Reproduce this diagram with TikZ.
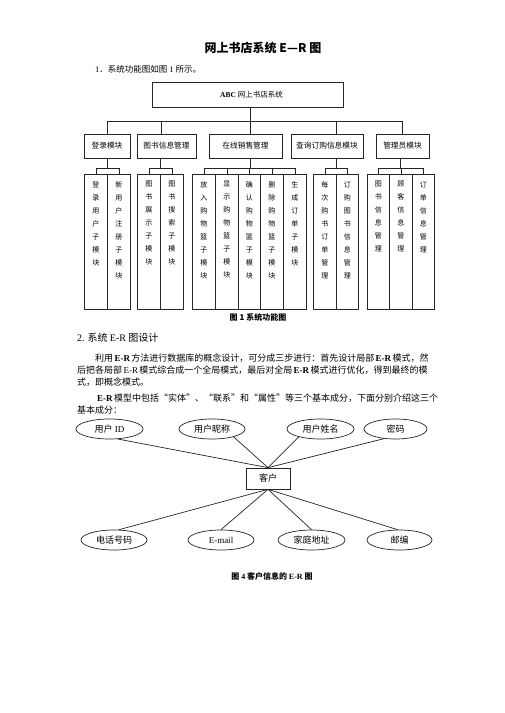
\documentclass[tikz,border=0pt]{standalone}
\usepackage{fontspec}
\setmainfont{Noto Sans CJK SC}
\newfontfamily\lt{Liberation Serif}
\usetikzlibrary{shapes.geometric}
\XeTeXlinebreaklocale "zh"
\XeTeXlinebreakskip=0pt plus 1pt minus 0.3pt
\newcommand\fs[1]{\fontsize{#1}{#1}\selectfont}
\newcommand\vt[2]{\parbox[t][135pt][t]{#1pt}{\centering\fontsize{7}{13}\selectfont\vspace*{7pt}#2}}
\tikzset{
  ln/.style={line width=0.7pt, draw=black!85},
  box/.style={ln, draw, inner sep=0pt},
  mod/.style={box, minimum height=24pt, font=\fs{7.7}},
  sub/.style={box, anchor=north west},
  attr/.style={ln, draw, ellipse, minimum height=20pt, inner sep=0pt, font=\fs{9}},
  txt/.style={inner sep=0pt},
}
\begin{document}
\begin{tikzpicture}[x=1pt,y=-1pt]
\useasboundingbox[fill=white] (0,0) rectangle (504,713);

% heading texts
\node[txt, font=\fs{12}\bfseries] (title) at (263,48) {网上书店系统 E—R 图};
\node[txt, anchor=west, font=\fs{8.5}] (l1) at (95,69) {{\lt 1}．系统功能图如图 {\lt 1} 所示。};

% top box
\node[box, minimum width=191pt, minimum height=25pt, font=\fs{7.5}] (top) at (247.5,94.5) {\hspace*{8pt}{\lt\bfseries ABC} 网上书店系统};

% bus
\coordinate (bus) at (250,121);
\coordinate (t1) at (107,121);
\coordinate (t2) at (161,121);
\coordinate (t3) at (250,121);
\coordinate (t4) at (336,121);
\coordinate (t5) at (402,121);
\draw[ln] (bus |- top.south) -- (bus);
\draw[ln] (t1) -- (t5);

% modules
\node[mod, minimum width=46pt] (m1) at (107,146) {登录模块};
\node[mod, minimum width=59pt] (m2) at (166.5,146) {图书信息管理};
\node[mod, minimum width=73pt] (m3) at (245.5,146) {在线销售管理};
\node[mod, minimum width=72pt] (m4) at (327,146) {查询订购信息模块};
\node[mod, minimum width=53pt] (m5) at (402.5,146) {管理员模块};
\draw[ln] (t1) -- (t1 |- m1.north);
\draw[ln] (t2) -- (t2 |- m2.north);
\draw[ln] (t3) -- (t3 |- m3.north);
\draw[ln] (t4) -- (t4 |- m4.north);
\draw[ln] (t5) -- (t5 |- m5.north);

% sub boxes
\node[sub] (s1) at (84,174) {\vt{23}{登\\录\\用\\户\\子\\模\\块}};
\node[sub] (s2) at (107,174) {\vt{23}{新\\用\\户\\注\\册\\子\\模\\块}};
\node[sub] (s3) at (137,174) {\vt{23}{图\\书\\展\\示\\子\\模\\块}};
\node[sub] (s4) at (160,174) {\vt{23}{图\\书\\搜\\索\\子\\模\\块}};
\node[sub] (s5) at (192,174) {\vt{23}{放\\入\\购\\物\\篮\\子\\模\\块}};
\node[sub] (s6) at (215,174) {\vt{23}{显\\示\\购\\物\\篮\\子\\模\\块}};
\node[sub] (s7) at (238,174) {\vt{22}{确\\认\\购\\物\\篮\\子\\模\\块}};
\node[sub] (s8) at (260,174) {\vt{23}{删\\除\\购\\物\\篮\\子\\模\\块}};
\node[sub] (s9) at (283,174) {\vt{23}{生\\成\\订\\单\\子\\模\\块}};
\node[sub] (s10) at (313,174) {\vt{23}{每\\次\\购\\书\\订\\单\\管\\理}};
\node[sub] (s11) at (336,174) {\vt{22}{订\\购\\图\\书\\信\\息\\管\\理}};
\node[sub] (s12) at (367,174) {\vt{22}{图\\书\\信\\息\\管\\理}};
\node[sub] (s13) at (389,174) {\vt{23}{顾\\客\\信\\息\\管\\理}};
\node[sub] (s14) at (412,174) {\vt{22}{订\\单\\信\\息\\管\\理}};

% brackets
\coordinate (g1) at (107,168);
\coordinate (g2) at (160,168);
\coordinate (g3) at (250,168);
\coordinate (g4) at (336,168);
\coordinate (g5) at (400,168);
\draw[ln] (g1 |- m1.south) -- (g1);
\draw[ln] (g2 |- m2.south) -- (g2);
\draw[ln] (g3 |- m3.south) -- (g3);
\draw[ln] (g4 |- m4.south) -- (g4);
\draw[ln] (g5 |- m5.south) -- (g5);
\draw[ln] (s1.north) |- (s2.north |- g1) -- (s2.north);
\draw[ln] (s3.north) |- (s4.north |- g2) -- (s4.north);
\draw[ln] (s5.north) |- (s9.north |- g3) -- (s9.north);
\draw[ln] (s6.north) -- (s6.north |- g3);
\draw[ln] (s7.north) -- (s7.north |- g3);
\draw[ln] (s8.north) -- (s8.north |- g3);
\draw[ln] (s10.north) |- (s11.north |- g4) -- (s11.north);
\draw[ln] (s12.north) |- (s14.north |- g5) -- (s14.north);
\draw[ln] (s13.north) -- (s13.north |- g5);

\node[txt, font=\fs{8}\bfseries] (cap1) at (258,317) {图 1 系统功能图};

% section text
\node[txt, anchor=west, font=\fs{10}] (sec) at (77,338) {{\lt 2.} 系统 {\lt E-R} 图设计};
\node[txt, anchor=west, font=\fs{9}] (p1) at (95,358) {\hbox to 332pt{利用 {\lt\bfseries E-R} 方法进行数据库的概念设计，可分成三步进行：首先设计局部 {\lt\bfseries E-R} 模式，然}};
\node[txt, anchor=west, font=\fs{9}] (p2) at (77,370) {\hbox to 350pt{后把各局部 {\lt E-R} 模式综合成一个全局模式，最后对全局 {\lt\bfseries E-R} 模式进行优化，得到最终的模}};
\node[txt, anchor=west, font=\fs{9}] (p3) at (77,382) {式，即概念模式。};
\node[txt, anchor=west, font=\fs{9}] (p4) at (97,398) {\hbox to 330pt{{\lt\bfseries E-R} 模型中包括“实体”、“联系”和“属性”等三个基本成分，下面分别介绍这三个}};
\node[txt, anchor=west, font=\fs{9}] (p5) at (77,410) {基本成分：};

% ER diagram
\node[attr, minimum width=67pt] (e1) at (109.5,429) {用户 {\lt ID}};
\node[attr, minimum width=66pt] (e2) at (212,429) {用户昵称};
\node[attr, minimum width=67pt] (e3) at (320.5,429) {用户姓名};
\node[attr, minimum width=63pt] (e4) at (395.5,429) {密码};
\node[box, minimum width=44pt, minimum height=21pt, font=\fs{9}] (kh) at (268,478.5) {客户};
\node[attr, minimum width=66pt] (b1) at (114,540) {电话号码};
\node[attr, minimum width=66pt] (b2) at (221,540) {\lt E-mail};
\node[attr, minimum width=67pt] (b3) at (311.5,540) {家庭地址};
\node[attr, minimum width=65pt] (b4) at (399.5,540) {邮编};

\draw[ln] (e1.-50) -- (kh.north);
\draw[ln] (e2.-20) -- (kh.north);
\draw[ln] (e3.200) -- (kh.north);
\draw[ln] (e4.220) -- (kh.north);
\draw[ln] (kh.south) -- (b1.65);
\draw[ln] (kh.south) -- (b2.north);
\draw[ln] (kh.south) -- (b3.north);
\draw[ln] (kh.south) -- (b4.100);

\node[txt, font=\fs{8}\bfseries] (cap4) at (272,576) {图 {\lt 4} 客户信息的 {\lt E-R} 图};
\end{tikzpicture}
\end{document}
